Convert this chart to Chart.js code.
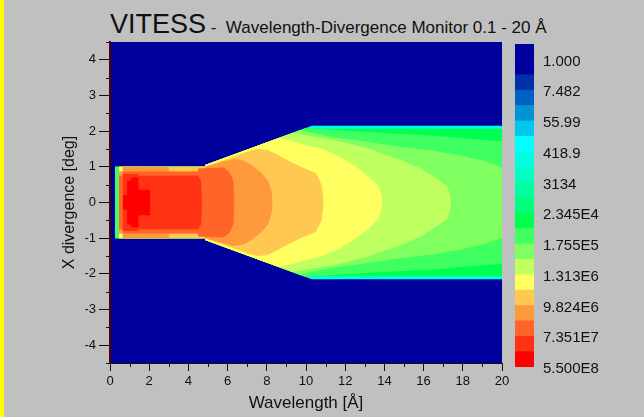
<!DOCTYPE html>
<html>
<head>
<meta charset="utf-8">
<script src="https://cdn.jsdelivr.net/npm/chart.js@4.4.1/dist/chart.umd.min.js"></script>
<style>
  html, body { margin: 0; padding: 0; }
  body {
    width: 644px; height: 417px; background: #c0c0c0;
    position: relative; overflow: hidden;
    font-family: "Liberation Sans", Arial, sans-serif;
  }
  #edge { position: absolute; left: 0; top: 0; width: 4px; height: 417px; background: #ffff00; }
  #title { position: absolute; left: 110px; top: 11px; line-height: 27px; color: #111; white-space: nowrap; }
  #title .big { font-size: 27px; }
  #title .small { font-size: 17px; }
  #main { position: absolute; left: 0; top: 0; }
  #bar { position: absolute; left: 505px; top: 0; }
</style>
</head>
<body>
<div id="edge"></div>
<div id="title"><span class="big">VITESS</span><span class="small"> -&nbsp; Wavelength-Divergence Monitor 0.1 - 20 Å</span></div>
<canvas id="main" width="644" height="417"></canvas>
<canvas id="bar" width="139" height="417"></canvas>
<script>
// colour of each intensity level, 0 = lowest (background) .. 20 = highest
const levelColors = [
  '#00009c', '#00009c', '#0030aa', '#0060c4', '#0094d4', '#00c8ec', '#00ffff',
  '#00ffe0', '#00ffc4', '#00ffa0', '#00ff7c', '#00ff50', '#40ff60', '#80ff60',
  '#c0ff60', '#ffff60', '#ffc850', '#ff9a3c', '#ff6428', '#ff3214', '#ff0000'
];

// colour bar labels, bottom to top
const barLabels = ['5.500E8', '7.351E7', '9.824E6', '1.313E6', '1.755E5', '2.345E4',
                   '3134', '418.9', '55.99', '7.482', '1.000'];
const barTicks = [0, 2, 4, 6, 8, 10, 12, 14, 16, 18, 20];

const xTicks = [0, 2, 4, 6, 8, 10, 12, 14, 16, 18, 20];
const xMinor = [1, 3, 5, 7, 9, 11, 13, 15, 17, 19];
const yTicks = [-4, -3, -2, -1, 0, 1, 2, 3, 4];
const yMinor = [-4.5, -3.5, -2.5, -1.5, -0.5, 0.5, 1.5, 2.5, 3.5, 4.5];

// upper edge [wavelength, |divergence|] of the area where intensity >= level
const band7 = [[0.25, 1.0], [4.85, 1.0], [4.85, 1.05], [10.3, 2.15], [20, 2.15]];
const band11 = [[0.25, 1.0], [4.85, 1.0], [4.85, 1.05], [10.0, 2.09], [10.6, 2.07], [20, 2.07]];
const band12 = [[0.25, 1.0], [4.85, 1.0], [4.85, 1.05], [10.0, 2.09], [11, 2.05], [14, 1.95],
                [16.5, 1.88], [18, 1.8], [20, 1.72]];
const band13 = [[0.45, 1.0], [4.85, 1.0], [4.85, 1.05], [9.7, 2.03], [10.3, 1.95], [11.4, 1.83],
                [13.1, 1.7], [14.8, 1.56], [16.5, 1.45], [17.9, 1.32], [19.2, 1.15], [20, 0.98]];
const band14 = [[0.45, 1.0], [4.85, 1.0], [4.85, 1.05], [9.3, 1.95], [10.3, 1.86], [11.4, 1.76],
                [13.1, 1.53], [14.8, 1.2], [15.8, 0.97], [16.5, 0.73], [17.2, 0.46], [17.35, 0.2], [17.4, 0]];
const band15 = [[0.45, 1.0], [4.85, 1.0], [4.85, 1.05], [8.6, 1.81], [9.2, 1.74], [9.9, 1.62],
                [10.7, 1.53], [11.7, 1.29], [12.4, 1.06], [13.1, 0.78], [13.7, 0.46], [13.85, 0.2], [13.9, 0]];
const band16 = [[0.45, 0.87], [0.65, 0.87], [0.65, 1.0], [4.85, 1.0], [6.3, 1.28], [7.0, 1.42],
                [7.5, 1.5], [8.0, 1.48], [8.5, 1.35], [9.0, 1.2], [9.7, 1.01], [10.5, 0.83],
                [10.8, 0.5], [10.9, 0]];
const band17 = [[0.45, 0.87], [0.65, 0.87], [0.65, 1.0], [3.0, 1.0], [3.0, 0.87], [4.85, 0.87],
                [4.85, 1.0], [5.6, 1.12], [6.3, 1.22], [6.8, 1.18], [7.2, 1.06], [7.7, 0.85],
                [8.08, 0.6], [8.25, 0.3], [8.3, 0]];
const band18 = [[0.45, 0.75], [0.65, 0.75], [0.65, 0.87], [4.5, 0.87], [4.5, 0.95], [5.8, 0.98],
                [6.1, 0.85], [6.3, 0.6], [6.35, 0]];
const band19 = [[0.65, 0.8], [1.45, 0.8], [1.45, 0.75], [4.5, 0.75], [4.65, 0.6], [4.7, 0]];
const band20 = [[0.65, 0.2], [0.87, 0.2], [0.87, 0.62], [1.07, 0.62], [1.07, 0.7], [1.45, 0.7],
                [1.45, 0.36], [2.04, 0.36], [2.04, 0]];

const bands = [
  { level: 7, edge: band7 }, { level: 11, edge: band11 }, { level: 12, edge: band12 },
  { level: 13, edge: band13 }, { level: 14, edge: band14 }, { level: 15, edge: band15 },
  { level: 16, edge: band16 }, { level: 17, edge: band17 }, { level: 18, edge: band18 },
  { level: 19, edge: band19 }, { level: 20, edge: band20 }
];

Chart.defaults.font.family = '"Liberation Sans", Arial, sans-serif';
Chart.defaults.color = '#111';

// upper edge filled down to its mirrored lower edge
const datasets = [];
bands.forEach(({ level, edge }) => {
  const common = { borderWidth: 0, pointRadius: 0, pointHoverRadius: 0, tension: 0, order: 20 - level };
  datasets.push(Object.assign({ data: edge.map(p => ({ x: p[0], y: p[1] })), fill: '+1',
                                backgroundColor: levelColors[level] }, common));
  datasets.push(Object.assign({ data: edge.map(p => ({ x: p[0], y: -p[1] })), fill: false }, common));
});

const plotBackground = {
  id: 'plotBackground',
  beforeDraw(chart) {
    const { ctx, chartArea: a } = chart;
    ctx.save();
    ctx.fillStyle = levelColors[0];
    ctx.fillRect(a.left, a.top, a.right - a.left, a.bottom - a.top);
    ctx.restore();
  }
};

const minorTicks = {
  id: 'minorTicks',
  afterDraw(chart) {
    const { ctx, scales: { x, y } } = chart;
    ctx.save();
    ctx.strokeStyle = '#111';
    ctx.lineWidth = 1;
    ctx.beginPath();
    xMinor.forEach(v => {
      const px = Math.round(x.getPixelForValue(v)) + 0.5;
      ctx.moveTo(px, x.top);
      ctx.lineTo(px, x.top + 4);
    });
    yMinor.forEach(v => {
      const py = Math.round(y.getPixelForValue(v)) + 0.5;
      ctx.moveTo(y.right - 4, py);
      ctx.lineTo(y.right, py);
    });
    ctx.stroke();
    ctx.restore();
  }
};

new Chart(document.getElementById('main'), {
  type: 'line',
  data: { datasets },
  plugins: [plotBackground, minorTicks],
  options: {
    responsive: false,
    animation: false,
    events: [],
    layout: { padding: { left: 0, right: 142, top: 42, bottom: 0 } },
    plugins: { legend: { display: false }, tooltip: { enabled: false } },
    scales: {
      x: {
        type: 'linear', min: 0, max: 20,
        afterFit: s => { s.height = 54; },
        afterBuildTicks: s => { s.ticks = xTicks.map(v => ({ value: v })); },
        grid: { display: true, drawOnChartArea: false, drawTicks: true, tickLength: 8, tickColor: '#111' },
        border: { display: true, color: '#111', width: 1 },
        ticks: { font: { size: 13 }, padding: 3, maxRotation: 0, autoSkip: false },
        title: { display: true, text: 'Wavelength [Å]', font: { size: 17 }, padding: { top: 0, bottom: 3 } }
      },
      y: {
        type: 'linear', min: -4.5, max: 4.5,
        afterFit: s => { s.width = 110; },
        afterBuildTicks: s => { s.ticks = yTicks.map(v => ({ value: v })); },
        grid: { display: true, drawOnChartArea: false, drawTicks: true, tickLength: 11, tickColor: '#111' },
        border: { display: true, color: '#500000', width: 2 },
        ticks: { font: { size: 13 }, padding: 3, autoSkip: false },
        title: { display: true, text: 'X divergence [deg]', font: { size: 16 }, padding: { top: 60, bottom: 0 } }
      }
    }
  }
});

// colour bar: one stacked segment per level, lowest at the top
const barColors = levelColors.slice().reverse();
new Chart(document.getElementById('bar'), {
  type: 'bar',
  data: {
    labels: [''],
    datasets: barColors.map(c => ({
      data: [1], backgroundColor: c, borderWidth: 0, categoryPercentage: 1, barPercentage: 1
    }))
  },
  options: {
    responsive: false,
    animation: false,
    events: [],
    layout: { padding: { left: 10, right: 0, top: 44, bottom: 50 } },
    plugins: { legend: { display: false }, tooltip: { enabled: false } },
    scales: {
      x: { display: false, stacked: true },
      y: {
        stacked: true, position: 'right', min: 0, max: 21,
        afterFit: s => { s.width = 110; },
        afterBuildTicks: s => { s.ticks = barTicks.map(v => ({ value: v })); },
        grid: { display: false, drawTicks: false },
        border: { display: false },
        ticks: { font: { size: 15 }, padding: 9, autoSkip: false, labelOffset: 2,
                 callback: v => barLabels[barTicks.indexOf(v)] }
      }
    }
  }
});
</script>
</body>
</html>
